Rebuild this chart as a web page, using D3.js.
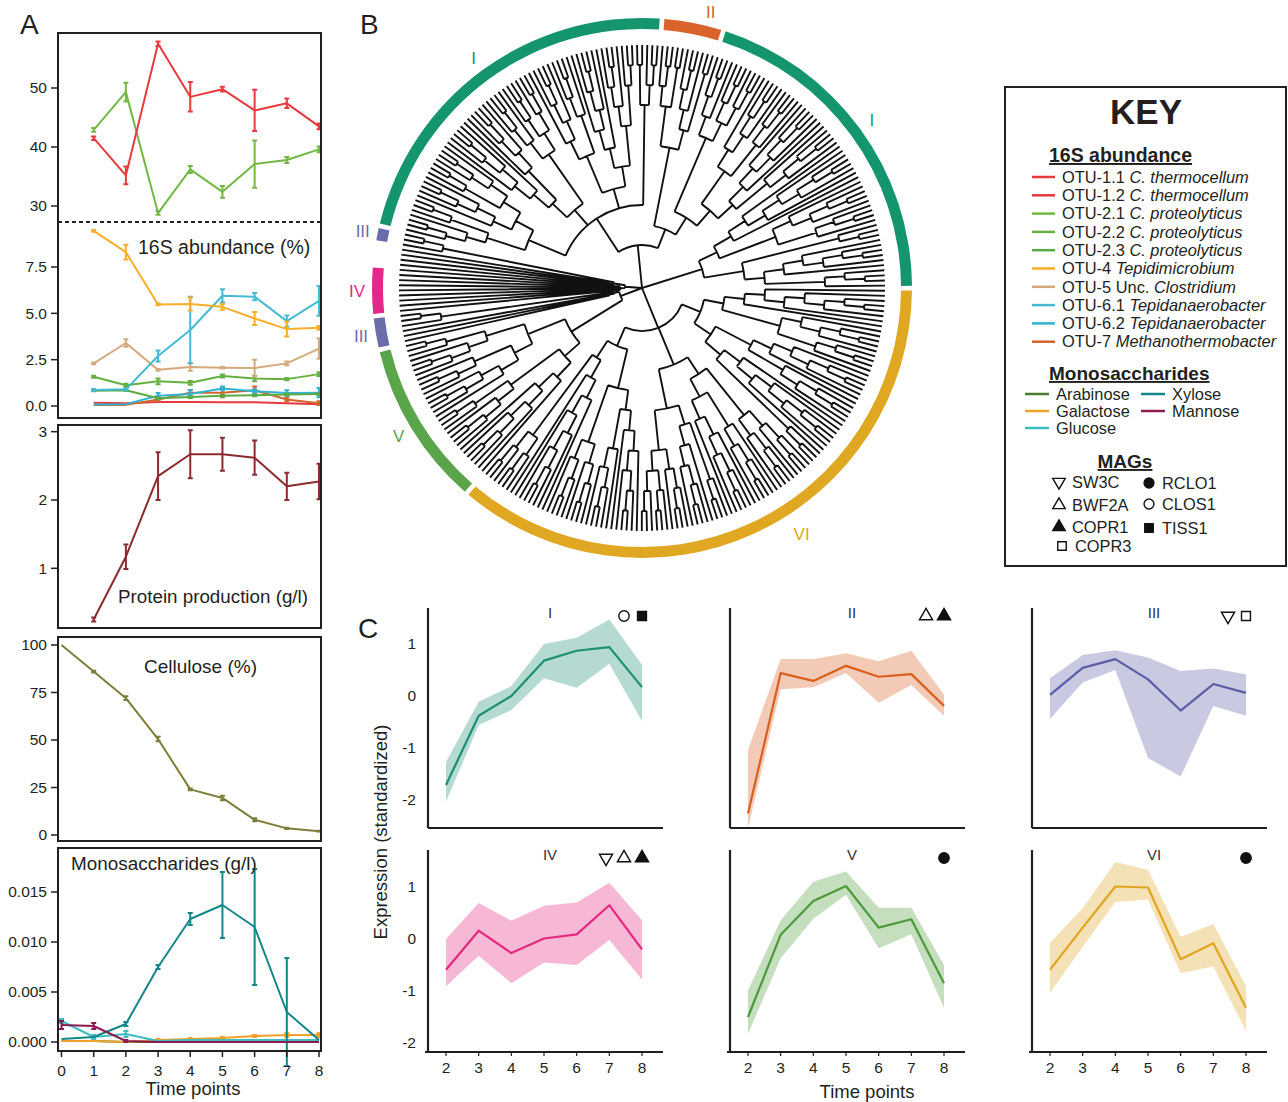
<!DOCTYPE html>
<html>
<head>
<meta charset="utf-8">
<script src="https://cdn.jsdelivr.net/npm/d3@7"></script>
<style>
body { margin: 0; background: #fff; }
svg { font-family: "Liberation Sans", Arial, sans-serif; }
</style>
</head>
<body>
<div id="fig"></div>
<script>
const W = 1288, H = 1102;

// ---------- Panel A data ----------
const timeAll = [0, 1, 2, 3, 4, 5, 6, 7, 8];
const time16S = [1, 2, 3, 4, 5, 6, 7, 8];

const otuNames = ["OTU-1.1", "OTU-1.2", "OTU-2.1", "OTU-2.2", "OTU-2.3", "OTU-4", "OTU-5", "OTU-6.1", "OTU-6.2", "OTU-7"];
const otuTaxa = ["C. thermocellum", "C. thermocellum", "C. proteolyticus", "C. proteolyticus", "C. proteolyticus",
  "Tepidimicrobium", "Clostridium", "Tepidanaerobacter", "Tepidanaerobacter", "Methanothermobacter"];
const otuPrefix = ["", "", "", "", "", "", "Unc. ", "", "", ""];
const otuColors = ["#e8393f", "#e8393f", "#72b844", "#64b041", "#5aab45", "#f7ae2b", "#d4aa7d", "#45bad3", "#2fb3d6", "#d2652a"];

// upper (broken) scale
const otu11 = [41.5, 35.2, 57.5, 48.5, 49.8, 46.2, 47.4, 43.5];
const err11 = [0.3, 1.5, 0.4, 2.5, 0.4, 3.5, 0.8, 0.5];
const otu21 = [42.9, 49.3, 28.8, 36.2, 32.4, 37.1, 37.8, 39.6];
const err21 = [0.3, 1.6, 0.3, 0.6, 1.0, 4.0, 0.5, 0.5];
// lower scale
const otu12 = [0.18, 0.15, 0.22, 0.22, 0.2, 0.2, 0.15, 0.1];
const err12 = [0, 0, 0, 0, 0, 0, 0, 0];
const otu22 = [1.58, 1.12, 1.33, 1.25, 1.62, 1.48, 1.45, 1.72];
const err22 = [0.05, 0.08, 0.15, 0.1, 0.08, 0.15, 0.06, 0.1];
const otu23 = [0.82, 0.85, 0.42, 0.48, 0.55, 0.58, 0.62, 0.65];
const err23 = [0.03, 0.03, 0.05, 0.05, 0.05, 0.05, 0.05, 0.05];
const otu4 = [9.45, 8.3, 5.48, 5.5, 5.35, 4.72, 4.15, 4.22];
const err4 = [0.05, 0.4, 0.05, 0.35, 0.15, 0.35, 0.4, 0.1];
const otu5 = [2.3, 3.4, 1.95, 2.1, 2.07, 2.05, 2.3, 3.1];
const err5 = [0.05, 0.2, 0.05, 0.2, 0.05, 0.45, 0.1, 0.55];
const otu61 = [0.87, 0.9, 2.7, 4.1, 5.95, 5.9, 4.58, 5.67];
const err61 = [0.05, 0.05, 0.3, 1.8, 0.35, 0.2, 0.3, 0.8];
const otu62 = [0.08, 0.1, 0.55, 0.65, 0.95, 0.8, 0.7, 0.72];
const err62 = [0, 0, 0.15, 0.2, 0.1, 0.1, 0.15, 0.25];
const otu7 = [0.05, 0.06, 0.35, 0.72, 0.72, 0.85, 0.35, 0.15];
const err7 = [0, 0, 0.1, 0.15, 0.25, 0.2, 0.1, 0.1];

const protein = [0.25, 1.17, 2.35, 2.67, 2.67, 2.62, 2.2, 2.27];
const proteinErr = [0.03, 0.18, 0.35, 0.35, 0.24, 0.25, 0.2, 0.26];

const cellulose = [100, 86, 72, 50.5, 24, 19.5, 8, 3.5, 2];
const celluloseErr = [0, 0.5, 1, 1.2, 0.5, 1.2, 0.8, 0.3, 0.2];

const sugarNames = ["Arabinose", "Galactose", "Glucose", "Xylose", "Mannose"];
const sugarColors = ["#4c7f2c", "#f2a22c", "#3fbcbf", "#13868a", "#8c1b52"];
const arabinose = [0.0001, 0.0001, 0.0, 0.0, 0.0, 0.0, 0.0, 0.0, 0.0];
const galactose = [0.0001, 0.0001, 0.0, 0.0002, 0.0003, 0.0004, 0.0006, 0.0007, 0.0007];
const galactoseErr = [0, 0, 0, 0.0001, 0.0001, 0.0001, 0.0001, 0.0002, 0.0002];
const glucose = [0.0021, 0.0005, 0.0008, 0.0001, 0.0002, 0.0002, 0.0002, 0.0002, 0.0002];
const glucoseErr = [0.0002, 0.0002, 0.0003, 0, 0, 0, 0, 0, 0];
const xylose = [0.0003, 0.0005, 0.0018, 0.0075, 0.0123, 0.0137, 0.0115, 0.003, 0.0002];
const xyloseErr = [0, 0, 0.0002, 0.0002, 0.0006, 0.0033, 0.0058, 0.0054, 0];
const mannose = [0.0017, 0.0016, 0.0001, 0, 0, 0, 0, 0, 0];
const mannoseErr = [0.0004, 0.0003, 0.0001, 0, 0, 0, 0, 0, 0];

// ---------- Panel B data ----------
// runs of leaves (clockwise, starting at the IV block) and their cluster
const cladeRuns = [["IV", 9], [null, 4], ["III", 3], ["I", 67], ["II", 11], ["I", 60], ["VI", 108], ["V", 30], ["III", 6]];
const clusterColors = { I: "#14956e", II: "#d9632a", III: "#6b6dab", IV: "#e3288a", V: "#5aa549", VI: "#e0a822" };
// tree topology: array = internal node, n = comb of n leaves, -n = star of n leaves
const treeShape = [
  [-9, [-4, 3]],
  [[[[4, 3], [5, [3, 4]]], [[6, 5], [4, [3, 3]]], [[5, 4], [6, [4, 3]]], [2, 3]],
   [[[3, 2], [4, 2]], [[4, [3, 3]], [[5, 4], [6, 5]]]]],
  [[8, [5, 4]], [3, [6, 4]]],
  [[[8, [5, 4]], [[6, 5], [7, 3]]], [[[4, 4], [5, 6]], [[3, 5], [4, [3, 3]]]], [[[6, 5], [4, 4]], [8, [3, 3]]]],
  [[[7, [4, 3]], [[5, 4], [4, 3]]], [-3, 3]]
];

// ---------- Panel C data ----------
const exprTimes = [2, 3, 4, 5, 6, 7, 8];
const exprClusters = ["I", "II", "III", "IV", "V", "VI"];
const exprColors = ["#1b9072", "#d95f1e", "#5b5ea6", "#e3287f", "#4c9b3a", "#e0a520"];
const exprMean = [
  [-1.71, -0.38, 0.0, 0.68, 0.87, 0.94, 0.17],
  [-2.26, 0.44, 0.29, 0.58, 0.37, 0.42, -0.19],
  [0.02, 0.54, 0.71, 0.32, -0.28, 0.23, 0.06],
  [-0.59, 0.16, -0.27, 0.01, 0.09, 0.65, -0.2],
  [-1.5, 0.08, 0.73, 1.02, 0.22, 0.38, -0.85],
  [-0.59, 0.22, 1.01, 0.99, -0.39, -0.08, -1.32]
];
const exprUpper = [
  [-1.27, -0.11, 0.19, 1.0, 1.12, 1.47, 0.6],
  [-1.04, 0.71, 0.71, 0.82, 0.67, 0.87, 0.03],
  [0.34, 0.79, 0.88, 0.74, 0.48, 0.53, 0.42],
  [0.0, 0.69, 0.35, 0.64, 0.7, 1.08, 0.36],
  [-0.99, 0.36, 1.1, 1.3, 0.6, 0.6, -0.5],
  [-0.07, 0.59, 1.48, 1.33, 0.04, 0.29, -0.91]
];
const exprLower = [
  [-2.03, -0.56, -0.27, 0.34, 0.16, 0.62, -0.48],
  [-2.54, 0.13, 0.17, 0.44, -0.13, 0.21, -0.38],
  [-0.44, 0.26, 0.5, -1.19, -1.55, -0.19, -0.38],
  [-0.91, -0.32, -0.85, -0.45, -0.5, -0.02, -0.78],
  [-1.82, -0.37, 0.39, 0.85, -0.18, 0.09, -1.32],
  [-1.04, -0.15, 0.71, 0.76, -0.66, -0.53, -1.77]
];
const exprMarkers = [["circleOpen", "squareFilled"], ["triOpen", "triFilled"], ["triDownOpen", "squareOpen"],
  ["triDownOpen", "triOpen", "triFilled"], ["circleFilled"], ["circleFilled"]];
const magNames = [["SW3C", "triDownOpen"], ["BWF2A", "triOpen"], ["COPR1", "triFilled"], ["COPR3", "squareOpen"],
  ["RCLO1", "circleFilled"], ["CLOS1", "circleOpen"], ["TISS1", "squareFilled"]];

// ---------- SVG ----------
const svg = d3.select("#fig").append("svg").attr("width", W).attr("height", H);
const ink = "#231f20";

function label(x, y, txt, size) {
  return svg.append("text").attr("x", x).attr("y", y).attr("font-size", size).attr("fill", ink).text(txt);
}

// draw a series with error bars
function series(g, times, vals, errs, x, y, color, w = 2) {
  g.append("path").datum(vals).attr("fill", "none").attr("stroke", color).attr("stroke-width", w)
    .attr("stroke-linejoin", "round")
    .attr("d", d3.line().x((d, i) => x(times[i])).y(d => y(d)));
  if (!errs) return;
  g.selectAll(null).data(vals).enter().append("path")
    .attr("stroke", color).attr("stroke-width", w).attr("fill", "none")
    .attr("d", (d, i) => {
      const xx = x(times[i]);
      if (!errs[i]) return "";
      const y0 = y(d - errs[i]), y1 = y(d + errs[i]);
      return `M${xx},${y0}V${y1}M${xx - 2.5},${y0}h5M${xx - 2.5},${y1}h5`;
    });
}

function leftTicks(g, y, ticks, fmt) {
  ticks.forEach(t => {
    g.append("line").attr("x1", 51).attr("x2", 58).attr("y1", y(t)).attr("y2", y(t))
      .attr("stroke", ink).attr("stroke-width", 1.5);
    g.append("text").attr("x", 47).attr("y", y(t)).attr("dy", "0.35em").attr("text-anchor", "end")
      .attr("font-size", 15.5).attr("fill", ink).text(fmt(t));
  });
}

// ---------- Panel A ----------
const xA = d3.scaleLinear().domain([0, 8]).range([61.5, 319]);
const gA = svg.append("g");
label(20, 34, "A", 28);

// 16S abundance
const yUp = d3.scaleLinear().domain([30, 50]).range([206, 88]);
const yLo = d3.scaleLinear().domain([0, 7.5]).range([406, 267]);
leftTicks(gA, yUp, [30, 40, 50], d3.format("d"));
leftTicks(gA, yLo, [0, 2.5, 5, 7.5], d3.format(".1f"));
gA.append("line").attr("x1", 58).attr("x2", 321).attr("y1", 222).attr("y2", 222)
  .attr("stroke", ink).attr("stroke-width", 2).attr("stroke-dasharray", "4,3");
const lowSeries = [[otu12, err12, 1], [otu7, err7, 9], [otu62, err62, 8], [otu23, err23, 4],
  [otu22, err22, 3], [otu5, err5, 6], [otu61, err61, 7], [otu4, err4, 5]];
lowSeries.forEach(s => series(gA, time16S, s[0], s[1], xA, yLo, otuColors[s[2]]));
series(gA, time16S, otu21, err21, xA, yUp, otuColors[2]);
series(gA, time16S, otu11, err11, xA, yUp, otuColors[0]);
gA.append("text").attr("x", 138).attr("y", 254).attr("font-size", 19.5).attr("fill", ink).text("16S abundance (%)");

// Protein production
const yP = d3.scaleLinear().domain([0, 3]).range([636.6, 431.7]);
leftTicks(gA, yP, [1, 2, 3], d3.format("d"));
series(gA, time16S, protein, proteinErr, xA, yP, "#8a2b2f");
gA.append("text").attr("x", 118).attr("y", 603).attr("font-size", 18.8).attr("fill", ink).text("Protein production (g/l)");

// Cellulose
const yC = d3.scaleLinear().domain([0, 100]).range([835, 645]);
leftTicks(gA, yC, [0, 25, 50, 75, 100], d3.format("d"));
series(gA, timeAll, cellulose, celluloseErr, xA, yC, "#7e7e3a");
gA.append("text").attr("x", 144).attr("y", 673).attr("font-size", 19).attr("fill", ink).text("Cellulose (%)");

// Monosaccharides
const yM = d3.scaleLinear().domain([0, 0.015]).range([1042, 892]);
leftTicks(gA, yM, [0, 0.005, 0.01, 0.015], d3.format(".3f"));
series(gA, timeAll, arabinose, null, xA, yM, sugarColors[0]);
series(gA, timeAll, galactose, galactoseErr, xA, yM, sugarColors[1]);
series(gA, timeAll, glucose, glucoseErr, xA, yM, sugarColors[2]);
series(gA, timeAll, xylose, xyloseErr, xA, yM, sugarColors[3]);
series(gA, timeAll, mannose, mannoseErr, xA, yM, sugarColors[4]);
gA.append("text").attr("x", 71).attr("y", 870).attr("font-size", 18.9).attr("fill", ink).text("Monosaccharides (g/l)");

// boxes
[[33, 418], [425, 628], [637, 841], [848, 1051]].forEach(b => {
  gA.append("rect").attr("x", 58).attr("y", b[0]).attr("width", 263).attr("height", b[1] - b[0])
    .attr("fill", "none").attr("stroke", ink).attr("stroke-width", 2);
});
timeAll.forEach(t => {
  gA.append("line").attr("x1", xA(t)).attr("x2", xA(t)).attr("y1", 1051).attr("y2", 1057)
    .attr("stroke", ink).attr("stroke-width", 1.5);
  gA.append("text").attr("x", xA(t)).attr("y", 1076).attr("text-anchor", "middle").attr("font-size", 15.5)
    .attr("fill", ink).text(t);
});
gA.append("text").attr("x", 193).attr("y", 1095).attr("text-anchor", "middle").attr("font-size", 18.5)
  .attr("fill", ink).text("Time points");

// ---------- Panel B ----------
label(360, 34, "B", 28);
const cx = 642, cy = 288, rLeaf = 243;
function pt(a, r) {
  const t = a * Math.PI / 180;
  return [cx + r * Math.sin(t), cy - r * Math.cos(t)];
}
// comb of n leaves, alternating sides so the spine zigzags
function comb(n) {
  if (n === 1) return {};
  return n % 2 ? { children: [{}, comb(n - 1)] } : { children: [comb(n - 1), {}] };
}
function build(s) {
  if (Array.isArray(s)) return { children: s.map(build) };
  if (s < 0) return { star: true, children: d3.range(-s).map(() => ({})) };
  return comb(s);
}
const root = d3.hierarchy(build(treeShape));
const leaves = root.leaves();
const N = leaves.length;
const angStep = 360 / N;
const angStart = 264;
leaves.forEach((l, i) => { l.ang = angStart + (i + 0.5) * angStep; });
const hStep = 20, starStep = 11;
root.eachAfter(n => {
  if (!n.children) { n.r = rLeaf; return; }
  n.ang = (n.children[0].ang + n.children[n.children.length - 1].ang) / 2;
  n.r = n.data.star ? n.depth * starStep : rLeaf - n.height * hStep;
  n.r = Math.min(n.r, d3.min(n.children, c => c.r) - 5);
});
root.r = 0;

let treePath = "";
root.each(n => {
  if (!n.children) return;
  const k = n.children;
  const a0 = k[0].ang, a1 = k[k.length - 1].ang;
  if (n.r > 0 && a1 > a0) {
    treePath += `M${pt(a0, n.r)}A${n.r},${n.r} 0 ${a1 - a0 > 180 ? 1 : 0} 1 ${pt(a1, n.r)}`;
  }
  k.forEach(c => { treePath += `M${pt(c.ang, n.r)}L${pt(c.ang, c.r)}`; });
});
svg.append("path").attr("d", treePath).attr("fill", "none").attr("stroke", "#111")
  .attr("stroke-width", 1.9);

// cluster ring
const ringArc = d3.arc().innerRadius(259).outerRadius(270);
const ringLabelAt = { II: [14, 284], VI: [147, 293] };
let idx = 0;
cladeRuns.forEach(run => {
  const a0 = angStart + idx * angStep, a1 = angStart + (idx + run[1]) * angStep;
  idx += run[1];
  if (!run[0]) return;
  const col = clusterColors[run[0]];
  svg.append("path").attr("transform", `translate(${cx},${cy})`)
    .attr("d", ringArc({ startAngle: (a0 + 0.5) * Math.PI / 180, endAngle: (a1 - 0.5) * Math.PI / 180 }))
    .attr("fill", col);
  const at = ringLabelAt[run[0]] || [(a0 + a1) / 2, 285];
  const p = pt(at[0], at[1]);
  svg.append("text").attr("x", p[0]).attr("y", p[1]).attr("dy", "0.35em").attr("text-anchor", "middle")
    .attr("font-size", 17).attr("fill", col).text(run[0]);
});

// ---------- KEY ----------
const gK = svg.append("g");
gK.append("rect").attr("x", 1005).attr("y", 87).attr("width", 281).attr("height", 479)
  .attr("fill", "none").attr("stroke", ink).attr("stroke-width", 2);
gK.append("text").attr("x", 1146).attr("y", 124).attr("text-anchor", "middle").attr("font-size", 35)
  .attr("font-weight", "bold").attr("fill", ink).text("KEY");
gK.append("text").attr("x", 1049).attr("y", 162).attr("font-size", 19.5).attr("font-weight", "bold")
  .attr("fill", ink).style("text-decoration", "underline").text("16S abundance");
otuNames.forEach((nm, i) => {
  const y = 177 + i * 18.3;
  gK.append("line").attr("x1", 1032).attr("x2", 1055).attr("y1", y).attr("y2", y)
    .attr("stroke", otuColors[i]).attr("stroke-width", 2.5);
  const t = gK.append("text").attr("x", 1062).attr("y", y).attr("dy", "0.35em").attr("font-size", 16.4).attr("fill", ink);
  t.append("tspan").text(nm + " " + otuPrefix[i]);
  t.append("tspan").attr("font-style", "italic").text(otuTaxa[i]);
});
gK.append("text").attr("x", 1049).attr("y", 380).attr("font-size", 19).attr("font-weight", "bold")
  .attr("fill", ink).style("text-decoration", "underline").text("Monosaccharides");
const sugarPos = [[1025, 394], [1025, 411], [1025, 428], [1141, 394], [1141, 411]];
sugarNames.forEach((nm, i) => {
  const [x, y] = sugarPos[i];
  gK.append("line").attr("x1", x).attr("x2", x + 24).attr("y1", y).attr("y2", y)
    .attr("stroke", sugarColors[i]).attr("stroke-width", 2.5);
  gK.append("text").attr("x", x + 31).attr("y", y).attr("dy", "0.35em").attr("font-size", 16.4)
    .attr("fill", ink).text(nm);
});
gK.append("text").attr("x", 1125).attr("y", 468).attr("text-anchor", "middle").attr("font-size", 19)
  .attr("font-weight", "bold").attr("fill", ink).style("text-decoration", "underline").text("MAGs");

function marker(g, kind, x, y, s = 1) {
  const filled = kind.endsWith("Filled");
  let type = d3.symbolCircle, size = 85, rot = 0;
  if (kind.startsWith("square")) { type = d3.symbolSquare; size = 80; }
  if (kind.startsWith("tri")) { type = d3.symbolTriangle; size = 75; }
  if (kind.startsWith("triDown")) rot = 180;
  g.append("path").attr("d", d3.symbol().type(type).size(size * s)())
    .attr("transform", `translate(${x},${y}) rotate(${rot})`)
    .attr("fill", filled ? "#111" : "#fff").attr("stroke", "#111").attr("stroke-width", 1.4);
}
const magPos = [[1059, 482], [1059, 505], [1059, 527], [1062, 546], [1149, 483], [1149, 504], [1149, 528]];
magNames.forEach((m, i) => {
  const [x, y] = magPos[i];
  marker(gK, m[1], x, y, 0.9);
  gK.append("text").attr("x", x + 13).attr("y", y).attr("dy", "0.35em").attr("font-size", 16.4)
    .attr("fill", ink).text(m[0]);
});

// ---------- Panel C ----------
label(358, 638, "C", 28);
const colX = [428, 730, 1032];
const rows = [
  { top: 608, bottom: 828, y0: 696 },
  { top: 850, bottom: 1052, y0: 939 }
];
exprClusters.forEach((cl, k) => {
  const col = k % 3, row = Math.floor(k / 3);
  const x0 = colX[col], R = rows[row];
  const x = d3.scaleLinear().domain([2, 8]).range([x0 + 18, x0 + 214]);
  const y = d3.scaleLinear().domain([0, 1]).range([R.y0, R.y0 - 52]);
  const g = svg.append("g");
  const band = exprTimes.map((t, i) => ({ t, lo: exprLower[k][i], hi: exprUpper[k][i] }));
  g.append("path").datum(band).attr("fill", exprColors[k]).attr("fill-opacity", 0.33)
    .attr("d", d3.area().x(d => x(d.t)).y0(d => y(d.lo)).y1(d => y(d.hi)));
  series(g, exprTimes, exprMean[k], null, x, y, exprColors[k], 2.2);
  // axes
  const xStart = row === 1 ? x0 - 3 : x0;
  g.append("path").attr("d", `M${x0},${R.top}V${R.bottom}M${xStart},${R.bottom}H${x0 + 235}`).attr("fill", "none")
    .attr("stroke", ink).attr("stroke-width", 2.2);
  if (col === 0) {
    [1, 0, -1, -2].forEach(v => {
      g.append("text").attr("x", x0 - 12).attr("y", y(v)).attr("dy", "0.35em").attr("text-anchor", "end")
        .attr("font-size", 15.5).attr("fill", ink).text(v);
    });
  }
  if (row === 1) {
    exprTimes.forEach(t => {
      g.append("line").attr("x1", x(t)).attr("x2", x(t)).attr("y1", R.bottom).attr("y2", R.bottom + 4)
        .attr("stroke", ink).attr("stroke-width", 1.2);
      g.append("text").attr("x", x(t)).attr("y", R.bottom + 21).attr("text-anchor", "middle")
        .attr("font-size", 15.5).attr("fill", ink).text(t);
    });
  }
  // title and MAG markers
  g.append("text").attr("x", x0 + 122).attr("y", R.top + 10).attr("text-anchor", "middle")
    .attr("font-size", 15).attr("fill", "#333").text(cl);
  const mk = exprMarkers[k];
  mk.forEach((m, j) => marker(g, m, x0 + 214 - (mk.length - 1 - j) * 18, R.top + 8));
});
svg.append("text").attr("transform", "translate(387,832) rotate(-90)").attr("text-anchor", "middle")
  .attr("font-size", 18.5).attr("fill", ink).text("Expression  (standardized)");
svg.append("text").attr("x", 867).attr("y", 1098).attr("text-anchor", "middle").attr("font-size", 18.5)
  .attr("fill", ink).text("Time points");
</script>
</body>
</html>
